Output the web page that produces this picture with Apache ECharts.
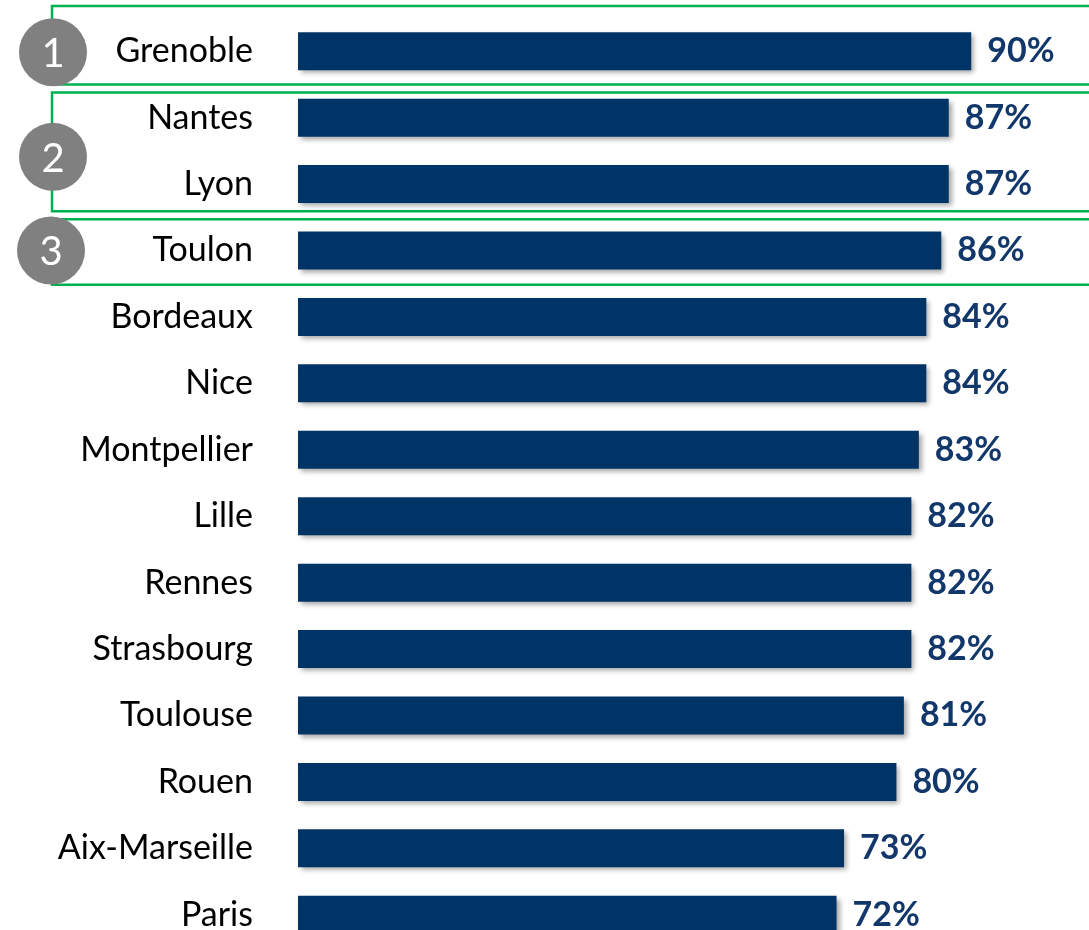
<!DOCTYPE html>
<html>
<head>
<meta charset="utf-8">
<script src="https://cdn.jsdelivr.net/npm/echarts@6/dist/echarts.min.js"></script>
<style>
  html, body { margin: 0; padding: 0; background: #fff; }
  #myChart { width: 1089px; height: 930px; }
</style>
</head>
<body>
<div id="myChart"></div>
<script>
const cities = ["Grenoble", "Nantes", "Lyon", "Toulon", "Bordeaux", "Nice", "Montpellier",
    "Lille", "Rennes", "Strasbourg", "Toulouse", "Rouen", "Aix-Marseille", "Paris"];
const shares = [90, 87, 87, 86, 84, 84, 83, 82, 82, 82, 81, 80, 73, 72];

// podium groups: rank -> [first city, last city]
const rankLabels = ["1", "2", "3"];
const rankFrom = ["Grenoble", "Nantes", "Toulon"];
const rankTo = ["Grenoble", "Lyon", "Toulon"];

// hand-tuned frame/badge nudges (px), per group
const framePad = [[-12, 0], [8, -6], [2, 1]];
const badgeNudge = [[53, 1], [53, 6], [51, 0]];

const chart = echarts.init(document.getElementById("myChart"));

chart.setOption({
    animation: false,
    grid: { left: 298, top: 18, height: 930, width: 748, outerBoundsMode: "none", containLabel: false },
    xAxis: {
        type: "value",
        min: 0,
        max: 100,
        show: false
    },
    yAxis: {
        type: "category",
        inverse: true,
        data: cities,
        axisLine: { show: false },
        axisTick: { show: false },
        axisLabel: {
            margin: 45,
            fontFamily: "Lato",
            fontSize: 34,
            color: "#000"
        }
    },
    series: [{
        type: "bar",
        data: shares,
        barWidth: 38,
        itemStyle: {
            color: "#013466",
            shadowColor: "rgba(0,0,0,0.35)",
            shadowBlur: 5,
            shadowOffsetX: 3,
            shadowOffsetY: 3
        },
        label: {
            show: true,
            position: "right",
            distance: 16,
            formatter: "{c}%",
            fontFamily: "Lato",
            fontWeight: "bold",
            fontSize: 34,
            color: "#12376a"
        }
    }]
});

// green frames and grey rank badges placed from the category scale
const yOf = c => chart.convertToPixel({ yAxisIndex: 0 }, c);
const half = (yOf(cities[1]) - yOf(cities[0])) / 2;
const graphics = [];
rankLabels.forEach((label, i) => {
    const y0 = yOf(rankFrom[i]);
    const y1 = yOf(rankTo[i]);
    const top = y0 - half + framePad[i][0];
    const bottom = y1 + half + framePad[i][1];
    graphics.push({
        type: "rect",
        shape: { x: 52, y: top, width: 1100, height: bottom - top },
        style: { fill: null, stroke: "#00b050", lineWidth: 2.5 }
    });
    const cx = badgeNudge[i][0];
    const cy = (y0 + y1) / 2 + badgeNudge[i][1];
    graphics.push({
        type: "circle",
        shape: { cx: cx, cy: cy, r: 34 },
        style: { fill: "#808080" }
    });
    graphics.push({
        type: "text",
        x: cx,
        y: cy + 2,
        style: {
            text: label,
            fill: "#fff",
            font: "40px Lato",
            align: "center",
            verticalAlign: "middle"
        }
    });
});
chart.setOption({ graphic: graphics });
</script>
</body>
</html>
